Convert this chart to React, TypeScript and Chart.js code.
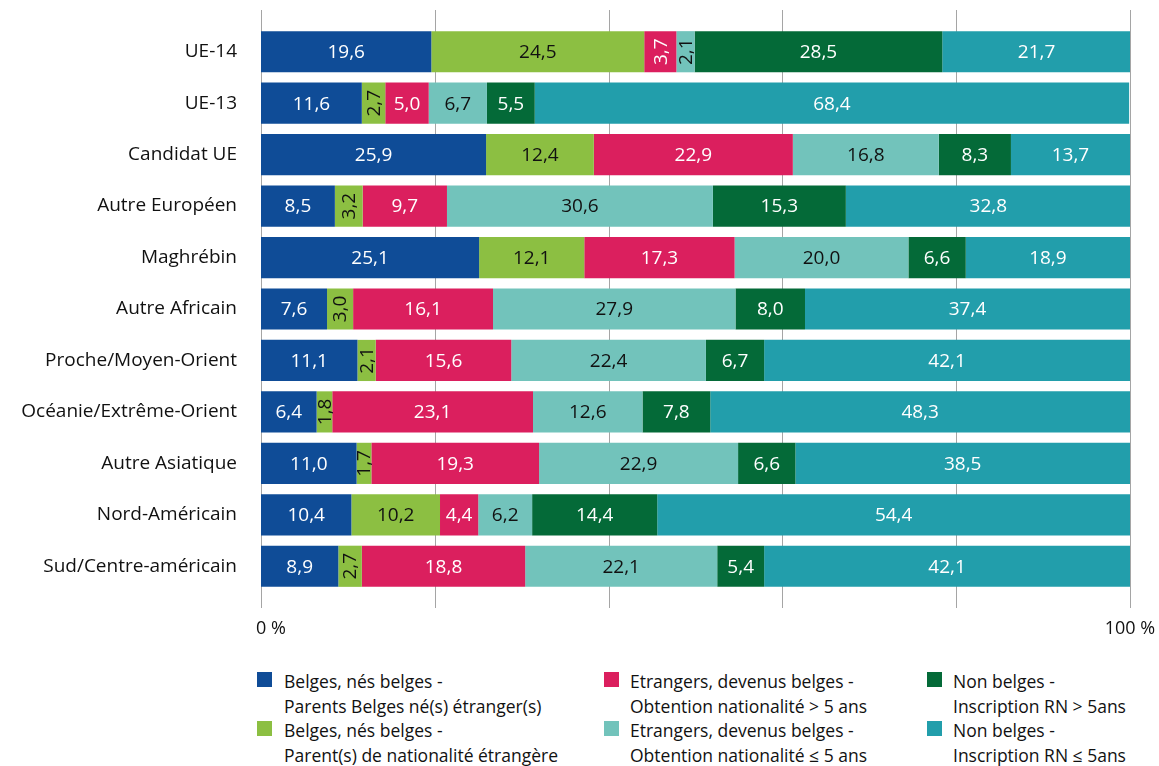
import React, { useEffect, useRef } from "react";
import { Chart, registerables } from "chart.js";

Chart.register(...registerables);

const categories = [
  "UE-14",
  "UE-13",
  "Candidat UE",
  "Autre Européen",
  "Maghrébin",
  "Autre Africain",
  "Proche/Moyen-Orient",
  "Océanie/Extrême-Orient",
  "Autre Asiatique",
  "Nord-Américain",
  "Sud/Centre-américain",
];

const belgesParentsBelges = [19.6, 11.6, 25.9, 8.5, 25.1, 7.6, 11.1, 6.4, 11.0, 10.4, 8.9];
const belgesParentEtranger = [24.5, 2.7, 12.4, 3.2, 12.1, 3.0, 2.1, 1.8, 1.7, 10.2, 2.7];
const etrangersPlus5 = [3.7, 5.0, 22.9, 9.7, 17.3, 16.1, 15.6, 23.1, 19.3, 4.4, 18.8];
const etrangersMoins5 = [2.1, 6.7, 16.8, 30.6, 20.0, 27.9, 22.4, 12.6, 22.9, 6.2, 22.1];
const nonBelgesPlus5 = [28.5, 5.5, 8.3, 15.3, 6.6, 8.0, 6.7, 7.8, 6.6, 14.4, 5.4];
const nonBelgesMoins5 = [21.7, 68.4, 13.7, 32.8, 18.9, 37.4, 42.1, 48.3, 38.5, 54.4, 42.1];

const seriesLabels = [
  ["Belges, nés belges -", "Parents Belges né(s) étranger(s)"],
  ["Belges, nés belges -", "Parent(s) de nationalité étrangère"],
  ["Etrangers, devenus belges -", "Obtention nationalité > 5 ans"],
  ["Etrangers, devenus belges -", "Obtention nationalité ≤ 5 ans"],
  ["Non belges -", "Inscription RN > 5ans"],
  ["Non belges -", "Inscription RN ≤ 5ans"],
];

const xTickLabels = ["0 %", "100 %"];

const colors = ["#0f4c97", "#8cbf42", "#db1f5e", "#72c3bb", "#046a38", "#229eab"];
const textColors = ["#ffffff", "#111111", "#ffffff", "#111111", "#ffffff", "#ffffff"];

const FONT = "'Open Sans', Lato, sans-serif";

const fmt = (v: number) => v.toFixed(1).replace(".", ",");

const gridPlugin = {
  id: "customGrid",
  beforeDatasetsDraw(chart: any) {
    const { ctx } = chart;
    const x = chart.scales.x;
    ctx.save();
    ctx.strokeStyle = "#a5a5a5";
    ctx.lineWidth = 1;
    for (let v = 0; v <= 100; v += 20) {
      const px = Math.round(x.getPixelForValue(v)) + 0.5;
      ctx.beginPath();
      ctx.moveTo(px, 10);
      ctx.lineTo(px, 608);
      ctx.stroke();
    }
    ctx.fillStyle = "#111111";
    ctx.font = `18px ${FONT}`;
    ctx.textBaseline = "middle";
    ctx.textAlign = "center";
    ctx.fillText(xTickLabels[0], x.getPixelForValue(0) + 10, 629);
    ctx.fillText(xTickLabels[1], x.getPixelForValue(100), 629);
    ctx.restore();
  },
};

const labelPlugin = {
  id: "valueLabels",
  afterDatasetsDraw(chart: any) {
    const { ctx } = chart;
    ctx.save();
    ctx.font = `19px ${FONT}`;
    ctx.textAlign = "center";
    ctx.textBaseline = "middle";
    chart.data.datasets.forEach((ds: any, di: number) => {
      const meta = chart.getDatasetMeta(di);
      meta.data.forEach((bar: any, i: number) => {
        const v = ds.data[i];
        const w = Math.abs(bar.x - bar.base);
        const cx = (bar.x + bar.base) / 2;
        const cy = bar.y;
        ctx.fillStyle = textColors[di];
        const txt = fmt(v);
        if (w < 36) {
          ctx.save();
          ctx.translate(cx + 1, cy);
          ctx.rotate(-Math.PI / 2);
          ctx.fillText(txt, 0, 0);
          ctx.restore();
        } else {
          ctx.fillText(txt, cx, cy + 1);
        }
      });
    });
    ctx.restore();
  },
};

function ChartView() {
  const ref = useRef<HTMLCanvasElement | null>(null);
  useEffect(() => {
    if (!ref.current) return;
    const series = [
      belgesParentsBelges,
      belgesParentEtranger,
      etrangersPlus5,
      etrangersMoins5,
      nonBelgesPlus5,
      nonBelgesMoins5,
    ];
    const chart = new Chart(ref.current, {
      type: "bar",
      data: {
        labels: categories,
        datasets: series.map((d, i) => ({
          label: seriesLabels[i].join(" "),
          data: d,
          backgroundColor: colors[i],
          borderWidth: 0,
          barPercentage: 0.8,
          categoryPercentage: 1,
        })),
      },
      options: {
        indexAxis: "y",
        animation: false,
        responsive: false,
        maintainAspectRatio: false,
        layout: { padding: { top: 26, right: 29, left: 0, bottom: 0 } },
        plugins: {
          legend: { display: false },
          tooltip: { enabled: false },
        },
        scales: {
          x: {
            stacked: true,
            min: 0,
            max: 100,
            grid: { display: false, drawTicks: false },
            border: { display: false },
            ticks: { display: false, stepSize: 20 },
            afterFit: (scale: any) => {
              scale.height = 66;
              scale.paddingLeft = 0;
              scale.paddingRight = 0;
            },
          },
          y: {
            stacked: true,
            grid: { display: false, drawTicks: false },
            border: { display: false },
            ticks: {
              color: "#111111",
              font: { family: FONT, size: 19 },
              padding: 24,
            },
            afterFit: (scale: any) => {
              scale.width = 261;
              scale.paddingTop = 0;
              scale.paddingBottom = 0;
            },
          },
        },
      },
      plugins: [gridPlugin, labelPlugin],
    } as any);
    return () => chart.destroy();
  }, []);
  return <canvas ref={ref} width={1159} height={658} style={{ display: "block" }} />;
}

function Legend() {
  const cols = [
    { marker: 257, text: 284 },
    { marker: 604, text: 630 },
    { marker: 927, text: 953 },
  ];
  const items = [0, 1, 2, 3, 4, 5];
  return (
    <>
      {items.map((i) => {
        const col = cols[Math.floor(i / 2)];
        const row = i % 2;
        const top = 669 + row * 49;
        return (
          <React.Fragment key={i}>
            <div
              style={{
                position: "absolute",
                left: col.marker,
                top: top + 3,
                width: 15,
                height: 15,
                background: colors[i],
              }}
            />
            <div
              style={{
                position: "absolute",
                left: col.text,
                top: top,
                fontFamily: FONT,
                fontSize: 17.5,
                lineHeight: "24.5px",
                color: "#111111",
                whiteSpace: "nowrap",
              }}
            >
              {seriesLabels[i][0]}
              <br />
              {seriesLabels[i][1]}
            </div>
          </React.Fragment>
        );
      })}
    </>
  );
}

export default function App() {
  return (
    <div
      style={{
        position: "fixed",
        left: 0,
        top: 0,
        width: 1159,
        height: 766,
        background: "#ffffff",
        overflow: "hidden",
      }}
    >
      <ChartView />
      <Legend />
    </div>
  );
}
